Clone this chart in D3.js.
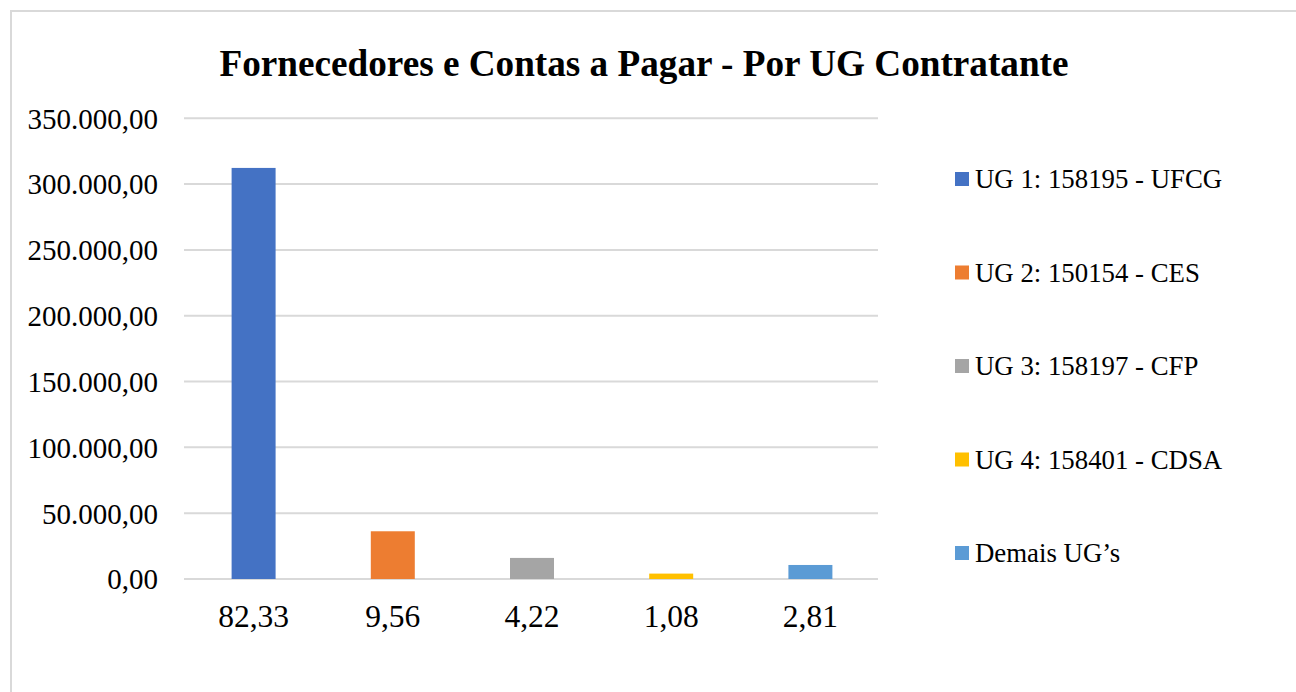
<!DOCTYPE html>
<html><head><meta charset="utf-8">
<script src="https://cdn.jsdelivr.net/npm/d3@7"></script>
<style>body{margin:0;background:#fff}svg{display:block}</style>
</head><body>
<svg id="c" width="1296" height="692"></svg>
<script>
const categories = ["82,33", "9,56", "4,22", "1,08", "2,81"];
const seriesNames = ["UG 1: 158195 - UFCG", "UG 2: 150154 - CES", "UG 3: 158197 - CFP", "UG 4: 158401 - CDSA", "Demais UG\u2019s"];
const values = [312300, 36260, 16010, 4100, 10660];
const colors = ["#4472c4", "#ed7d31", "#a5a5a5", "#ffc000", "#5b9bd5"];
const yTicks = [0, 50000, 100000, 150000, 200000, 250000, 300000, 350000];
const title = "Fornecedores e Contas a Pagar - Por UG Contratante";

const svg = d3.select("#c");
const FF = '"Liberation Serif"';

// frame
svg.append("path").attr("d", "M11,692 L11,11 L1296,11").attr("fill", "none")
  .attr("stroke", "#d9d9d9").attr("stroke-width", 2);

const x0 = 184, x1 = 880, yTop = 118.3, yBot = 579;
const x = d3.scaleBand().domain(categories).range([x0, x1]).paddingInner(0.684).paddingOuter(0.342);
const y = d3.scaleLinear().domain([0, 350000]).range([yBot, yTop]);

const fmt = v => d3.formatLocale({decimal: ",", thousands: ".", grouping: [3], currency: ["", ""]}).format(",.2f")(v);

// gridlines
svg.append("g").selectAll("line").data(yTicks).join("line")
  .attr("x1", x0).attr("x2", 878)
  .attr("y1", d => y(d)).attr("y2", d => y(d))
  .attr("stroke", "#d9d9d9").attr("stroke-width", 2);

// y axis labels
const yAxis = d3.axisLeft(y).tickValues(yTicks).tickFormat(fmt).tickSize(0).tickPadding(0);
const gy = svg.append("g").attr("transform", "translate(158,0)").call(yAxis);
gy.select(".domain").remove();
gy.selectAll("text").style("font-family", FF).style("font-size", "29px").attr("fill", "#000").attr("dy", "0.34em");

// bars
svg.append("g").selectAll("rect").data(values).join("rect")
  .attr("x", (d, i) => x(categories[i]))
  .attr("width", x.bandwidth())
  .attr("y", d => y(d))
  .attr("height", d => yBot - y(d))
  .attr("fill", (d, i) => colors[i]);

// x axis labels
const xAxis = d3.axisBottom(x).tickSize(0).tickPadding(0);
const gx = svg.append("g").attr("transform", "translate(0,627)").call(xAxis);
gx.select(".domain").remove();
gx.selectAll("text").style("font-family", FF).style("font-size", "31.5px").attr("fill", "#000").attr("y", 0).attr("dy", "0");

// title
svg.append("text").attr("x", 644).attr("y", 76).attr("text-anchor", "middle")
  .style("font-family", FF).style("font-weight", "bold").style("font-size", "37.2px")
  .attr("fill", "#000").text(title);

// legend
const leg = svg.append("g").selectAll("g").data(seriesNames).join("g")
  .attr("transform", (d, i) => `translate(955,${179 + i * 93.5})`);
leg.append("rect").attr("x", 0).attr("y", -7).attr("width", 14).attr("height", 14)
  .attr("fill", (d, i) => colors[i]);
leg.append("text").attr("x", 20).attr("y", 0).attr("dy", "0.35em")
  .style("font-family", FF).style("font-size", "26.8px").attr("fill", "#000").text(d => d);
</script>
</body></html>
